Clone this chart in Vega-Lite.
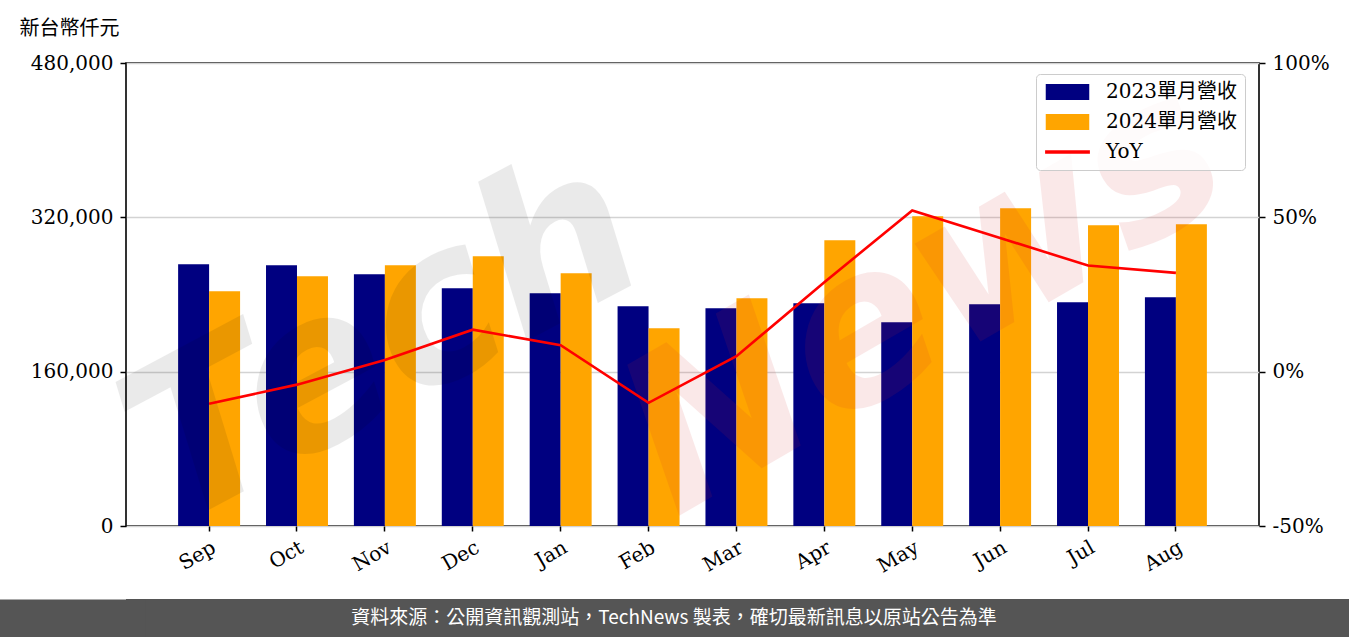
{
  "$schema": "https://vega.github.io/schema/vega-lite/v6.json",
  "padding": {"left": -9, "top": 17, "right": 0, "bottom": -8},
  "background": "white",
  "spacing": 14,
  "config": {"view": {"stroke": null}},
  "datasets": {
    "bars": [
      {"month": "Sep", "series": "2023單月營收", "value": 271400},
      {"month": "Sep", "series": "2024單月營收", "value": 243400},
      {"month": "Oct", "series": "2023單月營收", "value": 270300},
      {"month": "Oct", "series": "2024單月營收", "value": 258900},
      {"month": "Nov", "series": "2023單月營收", "value": 261000},
      {"month": "Nov", "series": "2024單月營收", "value": 270300},
      {"month": "Dec", "series": "2023單月營收", "value": 246500},
      {"month": "Dec", "series": "2024單月營收", "value": 279700},
      {"month": "Jan", "series": "2023單月營收", "value": 241300},
      {"month": "Jan", "series": "2024單月營收", "value": 262000},
      {"month": "Feb", "series": "2023單月營收", "value": 227800},
      {"month": "Feb", "series": "2024單月營收", "value": 205000},
      {"month": "Mar", "series": "2023單月營收", "value": 225700},
      {"month": "Mar", "series": "2024單月營收", "value": 236100},
      {"month": "Apr", "series": "2023單月營收", "value": 230900},
      {"month": "Apr", "series": "2024單月營收", "value": 296300},
      {"month": "May", "series": "2023單月營收", "value": 211200},
      {"month": "May", "series": "2024單月營收", "value": 321200},
      {"month": "Jun", "series": "2023單月營收", "value": 229900},
      {"month": "Jun", "series": "2024單月營收", "value": 329500},
      {"month": "Jul", "series": "2023單月營收", "value": 231900},
      {"month": "Jul", "series": "2024單月營收", "value": 311900},
      {"month": "Aug", "series": "2023單月營收", "value": 237100},
      {"month": "Aug", "series": "2024單月營收", "value": 312900}
    ],
    "yoy": [
      {"month": "Sep", "yoy": -10.4},
      {"month": "Oct", "yoy": -4.2},
      {"month": "Nov", "yoy": 3.8},
      {"month": "Dec", "yoy": 13.6},
      {"month": "Jan", "yoy": 8.6},
      {"month": "Feb", "yoy": -10.1},
      {"month": "Mar", "yoy": 5.0},
      {"month": "Apr", "yoy": 29.0},
      {"month": "May", "yoy": 52.2},
      {"month": "Jun", "yoy": 43.3},
      {"month": "Jul", "yoy": 34.4},
      {"month": "Aug", "yoy": 32.0}
    ],
    "watermark": [
      {"word": "Tech"},
      {"word": "News"}
    ],
    "footer": [
      {"text": "資料來源：公開資訊觀測站，TechNews 製表，確切最新訊息以原站公告為準"}
    ]
  },
  "vconcat": [
    {
      "width": 1133,
      "height": 463,
      "view": {"stroke": "#000000", "strokeWidth": 1.6},
      "layer": [
        {
          "data": {"name": "bars"},
          "mark": {"type": "bar"},
          "encoding": {
            "x": {
              "field": "month", "type": "nominal",
              "sort": ["Sep", "Oct", "Nov", "Dec", "Jan", "Feb", "Mar", "Apr", "May", "Jun", "Jul", "Aug"],
              "scale": {"paddingInner": 0.295, "paddingOuter": 0.593},
              "axis": {
                "orient": "bottom", "title": null, "domain": false, "grid": false,
                "labelAngle": -30, "labelAlign": "right", "labelBaseline": "top",
                "labelFont": "DejaVu Serif", "labelFontSize": 20, "labelColor": "#000000",
                "labelPadding": 6, "tickSize": 5, "tickWidth": 1.5, "tickColor": "#000000"
              }
            },
            "xOffset": {
              "field": "series", "type": "nominal",
              "sort": ["2023單月營收", "2024單月營收"],
              "scale": {"paddingInner": 0, "paddingOuter": 0}
            },
            "y": {
              "field": "value", "type": "quantitative",
              "scale": {"domain": [0, 480000], "nice": false},
              "axis": {
                "orient": "left", "values": [0, 160000, 320000, 480000], "format": ",d",
                "labelFont": "DejaVu Serif", "labelFontSize": 20, "labelColor": "#000000",
                "labelPadding": 7, "tickSize": 6, "tickWidth": 1.5, "tickColor": "#000000",
                "domain": false, "grid": true, "gridColor": "#d3d3d3", "gridWidth": 1.5,
                "title": "新台幣仟元", "titleAngle": 0, "titleAlign": "left", "titleBaseline": "middle",
                "titleX": -107, "titleY": -35, "titleFont": "Noto Sans CJK TC", "titleFontSize": 20,
                "titleFontWeight": "normal", "titleColor": "#000000"
              }
            },
            "color": {
              "field": "series", "type": "nominal",
              "scale": {"domain": ["2023單月營收", "2024單月營收", "YoY"], "range": ["#000080", "#ffa500", "#ff0000"]},
              "legend": {
                "title": null, "orient": "none", "legendX": 910, "legendY": 11,
                "labelFont": "DejaVu Serif, Noto Sans CJK TC", "labelFontSize": 20, "labelColor": "#000000",
                "symbolSize": 256, "symbolOffset": 13.5, "labelOffset": 28.5, "rowPadding": 10, "padding": 8,
                "symbolOpacity": 1, "symbolStrokeWidth": 0,
                "fillColor": "rgba(255,255,255,0.8)", "strokeColor": "#cccccc", "cornerRadius": 4
              }
            }
          }
        },
        {
          "data": {"name": "watermark"},
          "transform": [{"filter": "datum.word === 'Tech'"}],
          "mark": {"type": "text", "font": "DejaVu Sans", "fontWeight": "bold", "fontStyle": "italic", "fontSize": 215, "angle": 332, "align": "center", "baseline": "middle", "color": "#000000", "opacity": 0.08},
          "encoding": {
            "text": {"field": "word"},
            "x": {"datum": "Nov", "type": "nominal", "sort": ["Sep", "Oct", "Nov", "Dec", "Jan", "Feb", "Mar", "Apr", "May", "Jun", "Jul", "Aug"]},
            "y": {"datum": 190000, "type": "quantitative", "scale": {"domain": [0, 480000], "nice": false}, "axis": null}
          }
        },
        {
          "data": {"name": "watermark"},
          "transform": [{"filter": "datum.word === 'News'"}],
          "mark": {"type": "text", "font": "DejaVu Sans", "fontWeight": "bold", "fontStyle": "italic", "fontSize": 215, "angle": 330, "dx": 15, "align": "center", "baseline": "middle", "color": "#d62728", "opacity": 0.1},
          "encoding": {
            "text": {"field": "word"},
            "x": {"datum": "May", "type": "nominal", "sort": ["Sep", "Oct", "Nov", "Dec", "Jan", "Feb", "Mar", "Apr", "May", "Jun", "Jul", "Aug"]},
            "y": {"datum": 228000, "type": "quantitative", "scale": {"domain": [0, 480000], "nice": false}, "axis": null}
          }
        },
        {
          "data": {"name": "yoy"},
          "mark": {"type": "line", "strokeWidth": 2.6},
          "encoding": {
            "x": {
              "field": "month", "type": "nominal",
              "sort": ["Sep", "Oct", "Nov", "Dec", "Jan", "Feb", "Mar", "Apr", "May", "Jun", "Jul", "Aug"]
            },
            "y": {
              "field": "yoy", "type": "quantitative",
              "scale": {"domain": [-50, 100], "nice": false},
              "axis": {
                "orient": "right", "values": [-50, 0, 50, 100], "labelExpr": "datum.value + '%'",
                "labelFont": "DejaVu Serif", "labelFontSize": 20, "labelColor": "#000000",
                "labelPadding": 7, "tickSize": 6, "tickWidth": 1.5, "tickColor": "#000000",
                "domain": false, "grid": false, "title": null
              }
            },
            "color": {"datum": "YoY", "type": "nominal"}
          }
        },
        {
          "data": {"name": "bars"},
          "mark": {"type": "point", "filled": true, "opacity": 0},
          "encoding": {
            "x": {
              "field": "month", "type": "nominal",
              "sort": ["Sep", "Oct", "Nov", "Dec", "Jan", "Feb", "Mar", "Apr", "May", "Jun", "Jul", "Aug"]
            },
            "y": {
              "field": "value", "type": "quantitative",
              "scale": {"domain": [0, 480000], "nice": false},
              "axis": null
            },
            "color": {"field": "series", "type": "nominal"},
            "shape": {
              "field": "series", "type": "nominal",
              "scale": {
                "domain": ["2023單月營收", "2024單月營收", "YoY"],
                "range": ["M-2.72,-1H2.72V1H-2.72Z", "M-2.72,-1H2.72V1H-2.72Z", "M-2.8,-0.22H2.8V0.22H-2.8Z"]
              },
              "legend": {
                "title": null, "orient": "none", "legendX": 910, "legendY": 11,
                "labelFont": "DejaVu Serif, Noto Sans CJK TC", "labelFontSize": 20, "labelColor": "#000000",
                "symbolSize": 256, "symbolOffset": 13.5, "labelOffset": 28.5, "rowPadding": 10, "padding": 8,
                "symbolOpacity": 1, "symbolStrokeWidth": 0,
                "fillColor": "rgba(255,255,255,0.8)", "strokeColor": "#cccccc", "cornerRadius": 4
              }
            }
          }
        }
      ],
      "resolve": {"scale": {"y": "independent"}, "axis": {"y": "independent"}}
    },
    {
      "width": 1223,
      "height": 38,
      "view": {"fill": "#555555", "stroke": null},
      "data": {"name": "footer"},
      "mark": {"type": "text", "color": "#ffffff", "font": "Noto Sans CJK TC", "fontSize": 19, "dx": -63.5, "baseline": "middle"},
      "encoding": {
        "text": {"field": "text"},
        "y": {
          "datum": 0, "type": "quantitative",
          "scale": {"domain": [-1, 1]},
          "axis": {
            "values": [0], "labels": false, "domain": false, "grid": false, "title": null,
            "tickSize": 108, "tickWidth": 38, "tickColor": "#555555", "tickCap": "square"
          }
        }
      }
    }
  ]
}
